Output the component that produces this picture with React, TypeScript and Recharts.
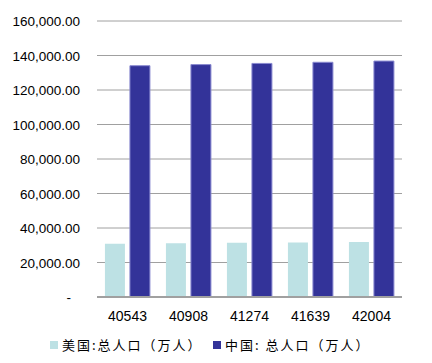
import React from 'react';
import { BarChart, Bar, XAxis, YAxis, CartesianGrid, Legend } from 'recharts';

const categories = ['40543', '40908', '41274', '41639', '42004'];
const usPopulation = [30934, 31159, 31388, 31613, 31844];
const chinaPopulation = [134091, 134735, 135404, 136072, 136782];
const yTicks = [0, 20000, 40000, 60000, 80000, 100000, 120000, 140000, 160000];
const seriesNames = ['美国:总人口（万人）', '中国: 总人口（万人）'];
const seriesColors = ['#bde1e4', '#333399'];

const data = categories.map((c, i) => ({
  date: c,
  us: usPopulation[i],
  cn: chinaPopulation[i],
}));

const fmt = (v: number) =>
  v === 0 ? '-' : v.toLocaleString('en-US', { minimumFractionDigits: 2, maximumFractionDigits: 2 });

const FONT = '"Liberation Sans", Arial, sans-serif';

const YTick = (props: any) => {
  const { x, y, payload } = props;
  const v = payload.value;
  return (
    <text x={v === 0 ? x - 9 : x} y={y} dy={5} textAnchor="end" fill="#000" fontSize={13.5} fontFamily={FONT}>
      {fmt(v)}
    </text>
  );
};

const LegendContent = () => (
  <div
    style={{
      display: 'flex',
      justifyContent: 'flex-start',
      paddingLeft: 50,
      fontSize: 13,
      fontFamily: '"Noto Sans CJK SC", sans-serif',
      color: '#000',
      lineHeight: '16px',
      letterSpacing: 2,
    }}
  >
    {seriesNames.map((n, i) => (
      <div key={n} style={{ display: 'flex', alignItems: 'center', width: i === 0 ? 163 : 'auto', whiteSpace: 'pre' }}>
        <span style={{ display: 'inline-block', width: 8, height: 8, background: seriesColors[i], marginRight: 4 }} />
        <span>{n}</span>
      </div>
    ))}
  </div>
);

export default function App() {
  return (
    <div style={{ position: 'absolute', left: 0, top: 0, background: '#fff' }}>
      <BarChart
        width={432}
        height={363}
        data={data}
        margin={{ top: 21, right: 30, left: 0, bottom: 6 }}
        barCategoryGap="13%"
        barGap={5}
      >
        <CartesianGrid vertical={false} stroke="#a0a0a0" strokeWidth={1} />
        <XAxis
          dataKey="date"
          tickLine={false}
          axisLine={{ stroke: '#a0a0a0', strokeWidth: 2 }}
          tick={{ fill: '#000', fontSize: 14, fontFamily: FONT }}
          tickMargin={8}
          height={40}
        />
        <YAxis
          domain={[0, 160000]}
          ticks={yTicks}
          interval={0}
          axisLine={false}
          tickLine={false}
          tickSize={0}
          tickMargin={17}
          width={97}
          tick={<YTick />}
        />
        <Legend verticalAlign="bottom" height={20} content={<LegendContent />} />
        <Bar dataKey="us" name={seriesNames[0]} fill={seriesColors[0]} isAnimationActive={false} />
        <Bar
          dataKey="cn"
          name={seriesNames[1]}
          fill={seriesColors[1]}
          stroke="#8a8ad0"
          strokeWidth={1}
          isAnimationActive={false}
        />
      </BarChart>
    </div>
  );
}
